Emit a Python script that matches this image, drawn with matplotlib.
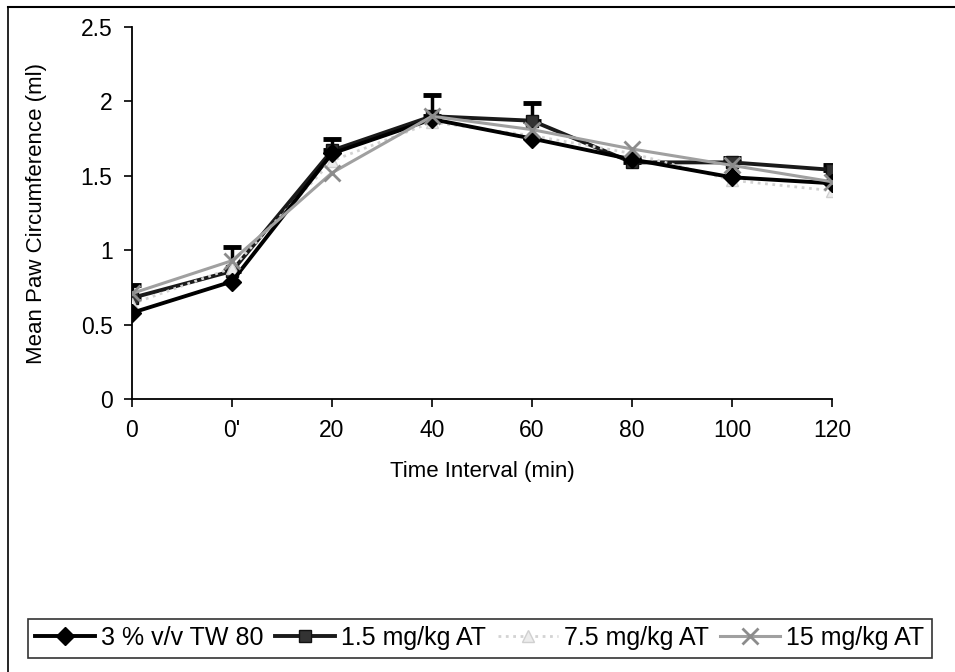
import matplotlib
matplotlib.use("Agg")
import matplotlib.pyplot as plt
from matplotlib.lines import Line2D

plt.rcParams['font.family'] = ['Liberation Sans', 'DejaVu Sans']

# --- data ---
time_labels = ["0", "0'", "20", "40", "60", "80", "100", "120"]
tw80 = [0.58, 0.79, 1.65, 1.88, 1.75, 1.61, 1.49, 1.45]
at_1_5 = [0.68, 0.86, 1.67, 1.90, 1.87, 1.59, 1.59, 1.54]
at_7_5 = [0.64, 0.88, 1.60, 1.86, 1.77, 1.65, 1.47, 1.40]
at_15 = [0.71, 0.93, 1.52, 1.90, 1.81, 1.68, 1.57, 1.46]
err_up = [0.09, 0.16, 0.08, 0.14, 0.12, 0.03, 0.03, 0.03]
y_ticks = [0, 0.5, 1, 1.5, 2, 2.5]
y_tick_labels = ["0", "0.5", "1", "1.5", "2", "2.5"]

xs = list(range(len(time_labels)))

fig = plt.figure(figsize=(9.55, 6.72), dpi=100)
ax = fig.add_axes([0.1382, 0.406, 0.733, 0.554])

# error bars (upper only) on the 1.5 mg/kg series
ax.errorbar(xs, at_1_5, yerr=[[0] * len(err_up), err_up], fmt='none',
            ecolor='black', elinewidth=2.5, capsize=6.5, capthick=3.5, zorder=2)

ax.plot(xs, tw80, color='black', lw=2.8, marker='D', ms=9,
        mfc='black', mec='black', label='3 % v/v TW 80', zorder=4)
ax.plot(xs, at_1_5, color='#1a1a1a', lw=2.8, marker='s', ms=9,
        mfc='#333333', mec='#111111', label='1.5 mg/kg AT', zorder=3)
ax.plot(xs, at_7_5, color='#d3d3d3', lw=2, ls=':', marker='^', ms=9,
        mfc='#ececec', mec='#d0d0d0', label='7.5 mg/kg AT', zorder=3)
ax.plot(xs, at_15, color='#a0a0a0', lw=2.2, marker='x', ms=11, mew=2,
        mec='#8c8c8c', label='15 mg/kg AT', zorder=5)

ax.set_xlim(0, len(xs) - 1)
ax.set_ylim(0, 2.5)
ax.set_xticks(xs)
ax.set_xticklabels(time_labels)
ax.set_yticks(y_ticks)
ax.set_yticklabels(y_tick_labels)
ax.tick_params(labelsize=16.5, length=6, width=1.2, direction='out', pad=8)
for s in ['top', 'right']:
    ax.spines[s].set_visible(False)
for s in ['left', 'bottom']:
    ax.spines[s].set_linewidth(1.3)

ax.set_xlabel('Time Interval (min)', fontsize=16, labelpad=14)
ax.set_ylabel('Mean Paw Circumference (ml)', fontsize=16, labelpad=24)

leg = fig.legend(loc='center', bbox_to_anchor=(0.5025, 0.0505), ncol=4,
                 fontsize=18, frameon=True, fancybox=False, edgecolor='black',
                 handlelength=2.4, handletextpad=0.25, columnspacing=0.45,
                 borderpad=0.3, borderaxespad=0)
leg.get_frame().set_linewidth(1.2)

# outer chart frame (top and left edges visible in the scan)
fig.add_artist(Line2D([0.008, 1.0], [0.99, 0.99], transform=fig.transFigure,
                      color='black', lw=1.5))
fig.add_artist(Line2D([0.008, 0.008], [0.0, 0.99], transform=fig.transFigure,
                      color='black', lw=1.2))

fig.savefig('out.png', dpi=100)
